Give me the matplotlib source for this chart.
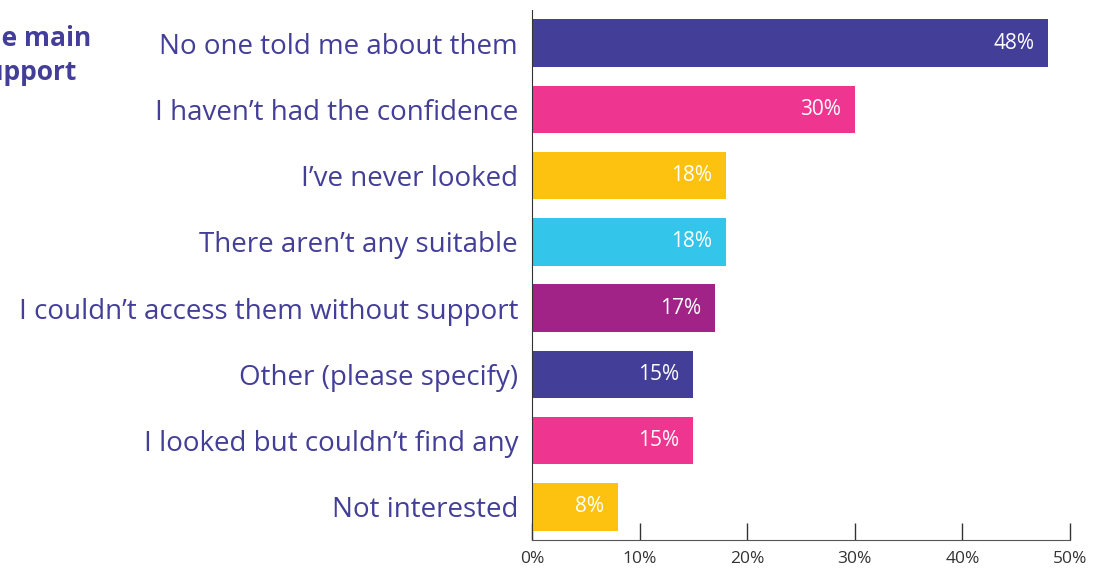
import matplotlib.pyplot as plt

# survey answers, top to bottom
reasons = [
    "No one told me about them",
    "I haven\u2019t had the confidence",
    "I\u2019ve never looked",
    "There aren\u2019t any suitable",
    "I couldn\u2019t access them without support",
    "Other (please specify)",
    "I looked but couldn\u2019t find any",
    "Not interested",
]
percent = [48, 30, 18, 18, 17, 15, 15, 8]
colours = ["#433E98", "#EE3691", "#FDC210", "#33C5EA",
           "#A12388", "#433E98", "#EE3691", "#FDC210"]
ticks = [0, 10, 20, 30, 40, 50]

plt.rcParams['font.family'] = ['Open Sans', 'DejaVu Sans']
purple = "#433E98"

fig = plt.figure(figsize=(11.04, 5.68), dpi=100)
ax = fig.add_axes([532 / 1104, 28 / 568, 538 / 1104, 530 / 568])

ypos = list(range(len(reasons)))
ax.barh(ypos, percent, height=0.72, color=colours, zorder=2)

for y, v in zip(ypos, percent):
    ax.text(v - 1.3, y, f"{v}%", ha='right', va='center',
            color='white', fontsize=15)

ax.set_ylim(len(reasons) - 0.5, -0.5)
ax.set_xlim(0, 50)
ax.set_yticks(ypos)
ax.set_yticklabels(reasons, fontsize=20, color=purple)
ax.tick_params(axis='y', length=0, pad=10)
ax.set_xticks(ticks)
ax.set_xticklabels([f"{t}%" for t in ticks], fontsize=12.5, color='#333333')
ax.tick_params(axis='x', direction='in', length=12, width=1, color='#333333', pad=8)

for s in ['top', 'right']:
    ax.spines[s].set_visible(False)
ax.spines['left'].set_color('#333333')
ax.spines['bottom'].set_color('#555555')

# chart heading, partly running off the left edge
fig.text(91 / 1104, 1 - 38 / 568, "What are the main", ha='right', va='center',
         fontsize=19, fontweight='bold', color=purple)
fig.text(76 / 1104, 1 - 72 / 568, "reasons you don\u2019t use support", ha='right', va='center',
         fontsize=19, fontweight='bold', color=purple)

fig.savefig("out.png", dpi=100)
